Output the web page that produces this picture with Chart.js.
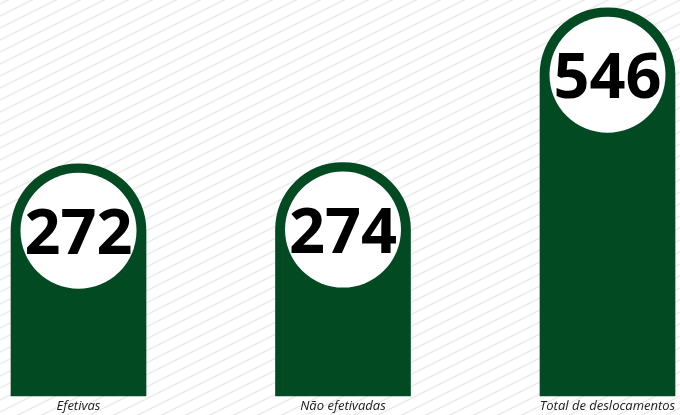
<!DOCTYPE html>
<html>
<head>
<meta charset="utf-8">
<script src="https://cdn.jsdelivr.net/npm/chart.js@4/dist/chart.umd.min.js"></script>
<style>
  html, body { margin: 0; padding: 0; background: #fff; }
  #wrap { width: 680px; height: 415px; }
</style>
</head>
<body>
<div id="wrap"><canvas id="deslocChart" width="680" height="415"></canvas></div>
<script>
const categories = ['Efetivas', 'Não efetivadas', 'Total de deslocamentos'];
const values = [272, 274, 546];

const barColor = '#024b22'; // dark green from the picture
const stripeColor = '#ebebeb';

// diagonal light stripes behind everything
const stripedBackground = {
  id: 'stripedBackground',
  beforeDraw(chart) {
    const { ctx, width, height } = chart;
    ctx.save();
    ctx.fillStyle = '#fff';
    ctx.fillRect(0, 0, width, height);
    ctx.strokeStyle = stripeColor;
    ctx.lineWidth = 1.5;
    for (let y0 = -width; y0 < height + width; y0 += 12) {
      ctx.beginPath();
      ctx.moveTo(0, y0);
      ctx.lineTo(width, y0 - width * 0.5);
      ctx.stroke();
    }
    ctx.restore();
  },
};

// white disc with the value on top of each bar
const valueBadges = {
  id: 'valueBadges',
  afterDatasetsDraw(chart) {
    const { ctx } = chart;
    const meta = chart.getDatasetMeta(0);
    ctx.save();
    meta.data.forEach((bar, i) => {
      const cx = bar.x;
      const cy = bar.y + 67;
      ctx.beginPath();
      ctx.arc(cx, cy, 58, 0, Math.PI * 2);
      ctx.fillStyle = '#fff';
      ctx.fill();
      ctx.fillStyle = '#000';
      ctx.font = '700 63px "Open Sans"';
      ctx.textAlign = 'center';
      ctx.textBaseline = 'alphabetic';
      ctx.fillText(String(values[i]), cx, cy + 23);
    });
    ctx.restore();
  },
};

const ctx = document.getElementById('deslocChart').getContext('2d');
new Chart(ctx, {
  type: 'bar',
  data: {
    labels: categories,
    datasets: [{
      data: values,
      backgroundColor: barColor,
      barThickness: 135,
      borderRadius: { topLeft: 67, topRight: 67, bottomLeft: 0, bottomRight: 0 },
      borderSkipped: 'bottom',
      base: -136,
      clip: false,
    }],
  },
  options: {
    responsive: false,
    animation: false,
    events: [],
    layout: { padding: { left: 78.5, right: 72.5, top: 0, bottom: 0 } },
    plugins: {
      legend: { display: false },
      tooltip: { enabled: false },
    },
    scales: {
      x: {
        offset: false,
        grid: { display: false, drawTicks: false },
        border: { display: false },
        ticks: {
          padding: 2,
          color: '#1a1a1a',
          font: { family: '"Open Sans"', size: 13, style: 'italic' },
          maxRotation: 0,
          autoSkip: false,
        },
        afterFit(scale) { scale.height = 19; },
      },
      y: {
        display: false,
        min: -136,
        max: 559.6,
      },
    },
  },
  plugins: [stripedBackground, valueBadges],
});
</script>
</body>
</html>
